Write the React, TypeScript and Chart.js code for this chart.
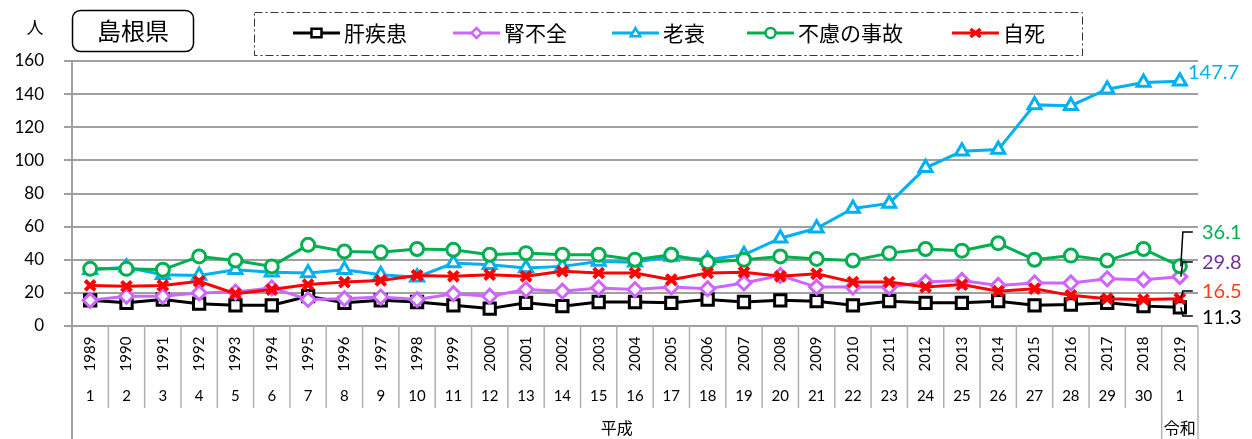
import React, { useEffect, useRef } from "react";
import { Chart, registerables } from "chart.js";

Chart.register(...registerables);

const years = [
  "1989", "1990", "1991", "1992", "1993", "1994", "1995", "1996", "1997", "1998",
  "1999", "2000", "2001", "2002", "2003", "2004", "2005", "2006", "2007", "2008",
  "2009", "2010", "2011", "2012", "2013", "2014", "2015", "2016", "2017", "2018", "2019",
];
const eraNumbers = [
  "1", "2", "3", "4", "5", "6", "7", "8", "9", "10",
  "11", "12", "13", "14", "15", "16", "17", "18", "19", "20",
  "21", "22", "23", "24", "25", "26", "27", "28", "29", "30", "1",
];
const eraNames = ["平成", "令和"];
const heiseiCount = 30;

const seriesNames = ["肝疾患", "腎不全", "老衰", "不慮の事故", "自死"];

const liver = [
  15.5, 14, 16, 13.5, 12.5, 12.5, 18, 14, 15.5, 14.5,
  12.5, 10.5, 14, 12, 14.5, 14.5, 14, 16, 14.5, 15.5,
  15, 12.5, 15, 14, 14, 15, 12.5, 13, 14, 12, 11.3,
];
const kidney = [
  15.5, 18, 18, 20, 20.5, 23, 16, 16.5, 17.5, 16,
  19.5, 18, 22, 21, 23, 22, 23.5, 22.5, 26, 30.5,
  23.5, 23.5, 23.5, 26.5, 27.5, 24.5, 26, 26, 28.5, 28, 29.8,
];
const senility = [
  34, 35.5, 31, 30.5, 34, 32.5, 32, 34, 31, 29.5,
  38, 37, 35, 36, 39, 38.5, 42, 40, 43, 53,
  59, 71, 74, 95.5, 105.5, 106.5, 133.5, 133, 143, 147, 147.7,
];
const accident = [
  34.5, 34.5, 34, 42, 39.5, 36, 49, 45, 44.5, 46.5,
  46, 43, 44, 43, 43, 40, 43, 38.5, 40, 42,
  40.5, 39.5, 44, 46.5, 45.5, 50, 40, 42.5, 39.5, 46.5, 36.1,
];
const suicide = [
  24.5, 24, 24.5, 27, 19.5, 22, 25, 26.5, 27.5, 30.5,
  30, 31, 30, 33, 32, 32, 28, 32, 32.5, 30,
  31.5, 26.5, 26.5, 23.5, 25, 21, 22.5, 18.5, 16.5, 16, 16.5,
];

const yMin = 0;
const yMax = 160;
const yStep = 20;
const yUnit = "人";
const prefecture = "島根県";

const colors = ["#000000", "#CC66FF", "#00B0F0", "#00B050", "#FF0000"];
const labelColors = ["#000000", "#7030A0", "#00B0F0", "#00B050", "#FF3B1A"];
const pointStyles = ["rect", "rectRot", "triangle", "circle", "crossRot"];
const pointRadii = [8, 7, 7.5, 6.5, 7];
const pointBorders = [3, 3, 3, 3, 4];

const FONT_NUM = "Lato, 'Noto Sans CJK JP', sans-serif";
const FONT_JP = "'Noto Sans CJK JP', 'Noto Sans', sans-serif";

// layout of the end-of-line labels (positions in pixels)
const endLabelLayout = [
  { ds: 2, x: 1188, y: 73, leader: false },
  { ds: 3, x: 1202, y: 233, leader: true },
  { ds: 1, x: 1202, y: 263, leader: true },
  { ds: 4, x: 1202, y: 292, leader: true },
  { ds: 0, x: 1202, y: 318, leader: true },
];
const legendItemX = [293, 453, 612, 747, 952];

function drawMarker(ctx: CanvasRenderingContext2D, style: string, x: number, y: number, r: number, color: string, lw: number) {
  ctx.save();
  ctx.strokeStyle = color;
  ctx.fillStyle = "#ffffff";
  ctx.lineWidth = lw;
  ctx.beginPath();
  if (style === "rect") {
    ctx.rect(x - r, y - r * 0.85, 2 * r, 1.7 * r);
    ctx.fill();
    ctx.stroke();
  } else if (style === "rectRot") {
    ctx.moveTo(x, y - r);
    ctx.lineTo(x + r, y);
    ctx.lineTo(x, y + r);
    ctx.lineTo(x - r, y);
    ctx.closePath();
    ctx.fill();
    ctx.stroke();
  } else if (style === "triangle") {
    ctx.moveTo(x, y - r);
    ctx.lineTo(x + r * 0.95, y + r * 0.65);
    ctx.lineTo(x - r * 0.95, y + r * 0.65);
    ctx.closePath();
    ctx.fill();
    ctx.stroke();
  } else if (style === "circle") {
    ctx.arc(x, y, r, 0, Math.PI * 2);
    ctx.fill();
    ctx.stroke();
  } else if (style === "crossRot") {
    ctx.moveTo(x - r, y - r * 0.8);
    ctx.lineTo(x + r, y + r * 0.8);
    ctx.moveTo(x + r, y - r * 0.8);
    ctx.lineTo(x - r, y + r * 0.8);
    ctx.stroke();
  }
  ctx.restore();
}

const seriesData = [liver, kidney, senility, accident, suicide];

const overlay = {
  id: "overlay",
  afterDraw(chart: any) {
    const ctx: CanvasRenderingContext2D = chart.ctx;
    const xs = chart.scales.x;
    const ys = chart.scales.y;
    const { left, right, bottom } = chart.chartArea;
    const H = chart.height;
    const n = years.length;

    ctx.save();
    // axis extension and table lines
    ctx.strokeStyle = "#a0a0a0";
    ctx.lineWidth = 2;
    ctx.beginPath();
    ctx.moveTo(left, bottom);
    ctx.lineTo(left, H);
    ctx.stroke();

    ctx.lineWidth = 1.5;
    ctx.strokeStyle = "#b0b0b0";
    for (let i = 1; i <= n; i++) {
      const bx = i === n ? right : (xs.getPixelForValue(i - 1) + xs.getPixelForValue(i)) / 2;
      const toBottom = i === heiseiCount || i === n;
      ctx.beginPath();
      ctx.moveTo(bx, bottom);
      ctx.lineTo(bx, toBottom ? H : 408);
      ctx.stroke();
    }

    // year labels (rotated) and era numbers
    ctx.fillStyle = "#000";
    ctx.textAlign = "center";
    ctx.textBaseline = "middle";
    for (let i = 0; i < n; i++) {
      const x = xs.getPixelForValue(i);
      ctx.save();
      ctx.translate(x, 354);
      ctx.rotate(-Math.PI / 2);
      ctx.font = `15px ${FONT_NUM}`;
      ctx.fillText(years[i], 0, 0);
      ctx.restore();
      ctx.font = `15px ${FONT_NUM}`;
      ctx.fillText(eraNumbers[i], x, 396);
    }
    const heiseiRight = (xs.getPixelForValue(heiseiCount - 1) + xs.getPixelForValue(heiseiCount)) / 2;
    ctx.font = `16px ${FONT_JP}`;
    ctx.fillText(eraNames[0], (left + heiseiRight) / 2, 428);
    ctx.fillText(eraNames[1], (heiseiRight + right) / 2, 428);

    // unit
    ctx.font = `17px ${FONT_JP}`;
    ctx.fillText(yUnit, 35, 28);

    // title box
    ctx.strokeStyle = "#000";
    ctx.lineWidth = 1.5;
    ctx.beginPath();
    (ctx as any).roundRect(72.5, 10.5, 121, 41, 8);
    ctx.stroke();
    ctx.font = `24px ${FONT_JP}`;
    ctx.fillText(prefecture, 133, 31);

    // legend box
    ctx.save();
    ctx.strokeStyle = "#333";
    ctx.lineWidth = 1;
    ctx.setLineDash([8, 3, 2, 3]);
    ctx.strokeRect(254.5, 12.5, 828, 43);
    ctx.restore();

    for (let k = 0; k < seriesNames.length; k++) {
      const lx = legendItemX[k];
      const ly = 33;
      ctx.strokeStyle = colors[k];
      ctx.lineWidth = 3;
      ctx.beginPath();
      ctx.moveTo(lx, ly);
      ctx.lineTo(lx + 47, ly);
      ctx.stroke();
      drawMarker(ctx, pointStyles[k], lx + 23.5, ly, 5, colors[k], k === 4 ? 3.5 : 2.5);
      ctx.fillStyle = "#000";
      ctx.textAlign = "left";
      ctx.font = `21px ${FONT_JP}`;
      ctx.fillText(seriesNames[k], lx + 51, ly);
    }

    // end labels
    const lastIdx = n - 1;
    const lastX = xs.getPixelForValue(lastIdx);
    ctx.font = `20px ${FONT_NUM}`;
    ctx.textAlign = "left";
    for (const l of endLabelLayout) {
      const v = seriesData[l.ds][lastIdx];
      const py = ys.getPixelForValue(v);
      if (l.leader) {
        const hy = l.ds === 0 ? l.y - 2 : l.y - 1;
        ctx.strokeStyle = "#000";
        ctx.lineWidth = 1.5;
        ctx.beginPath();
        ctx.moveTo(lastX + 1, py);
        ctx.lineTo(lastX + 3, hy);
        ctx.lineTo(lastX + 13, hy);
        ctx.stroke();
      }
      ctx.fillStyle = labelColors[l.ds];
      ctx.fillText(v.toFixed(1), l.x, l.y);
    }
    ctx.restore();
  },
};

export default function App() {
  const ref = useRef<HTMLCanvasElement>(null);
  useEffect(() => {
    document.body.style.margin = "0";
    document.body.style.overflow = "hidden";
    const canvas = ref.current!;
    const chart = new Chart(canvas, {
      type: "line",
      data: {
        labels: years,
        datasets: seriesNames.map((name, i) => ({
          label: name,
          data: seriesData[i],
          borderColor: colors[i],
          backgroundColor: "#ffffff",
          borderWidth: 3,
          pointStyle: pointStyles[i] as any,
          pointRadius: pointRadii[i],
          pointBorderWidth: pointBorders[i],
          pointBorderColor: colors[i],
          pointBackgroundColor: "#ffffff",
          tension: 0,
          order: seriesNames.length - 1 - i,
        })),
      },
      options: {
        responsive: false,
        animation: false,
        layout: { padding: { left: 0, right: 54, top: 61, bottom: 113 } },
        plugins: {
          legend: { display: false },
          tooltip: { enabled: false },
          title: { display: false },
        },
        scales: {
          x: { display: false, offset: true },
          y: {
            min: yMin,
            max: yMax,
            ticks: {
              stepSize: yStep,
              color: "#000",
              padding: 20,
              font: { family: FONT_NUM, size: 17 },
            },
            grid: { color: "#a0a0a0", lineWidth: 2, tickLength: 8, drawTicks: true },
            border: { display: true, color: "#a0a0a0", width: 2 },
            afterFit: (s: any) => {
              s.width = 72;
            },
          },
        },
      },
      plugins: [overlay],
    });
    return () => chart.destroy();
  }, []);
  return <canvas ref={ref} width={1252} height={439} style={{ display: "block" }} />;
}
